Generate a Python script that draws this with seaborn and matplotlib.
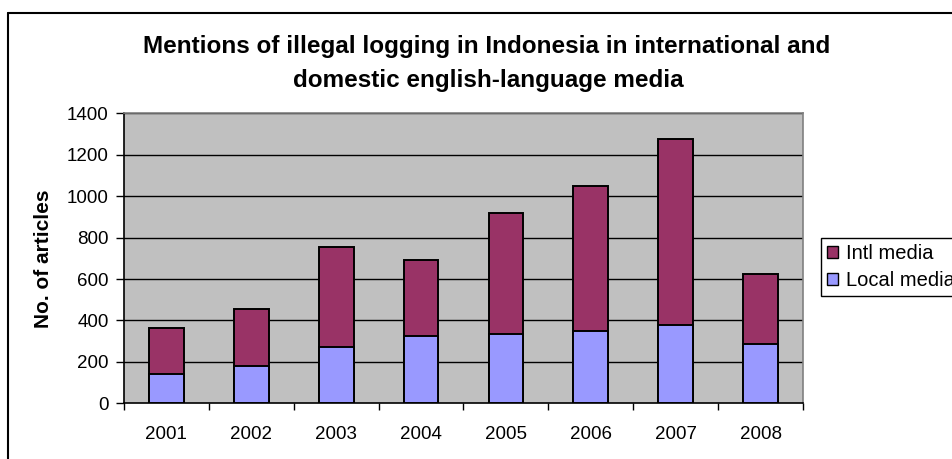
import matplotlib
matplotlib.use("Agg")
import matplotlib.pyplot as plt
from matplotlib.patches import Patch
from matplotlib.lines import Line2D
import numpy as np
import pandas as pd
import seaborn as sns

# Article counts per year
years = ["2001", "2002", "2003", "2004", "2005", "2006", "2007", "2008"]
local_media = [141, 180, 272, 325, 333, 349, 378, 286]
intl_media = [222, 275, 481, 367, 587, 700, 900, 337]

series_labels = ["Intl media", "Local media"]
y_ticks = [0, 200, 400, 600, 800, 1000, 1200, 1400]

INTL_COLOR = "#993366"
LOCAL_COLOR = "#9999FF"
PLOT_BG = "#C0C0C0"

sns.set_theme(style="white")
plt.rcParams["font.family"] = ["Liberation Sans", "DejaVu Sans"]
plt.rcParams["text.color"] = "black"
plt.rcParams["axes.labelcolor"] = "black"
plt.rcParams["xtick.color"] = "black"
plt.rcParams["ytick.color"] = "black"

df = pd.DataFrame({
    "year": years,
    "local": local_media,
    "intl": intl_media,
})
df["total"] = df["local"] + df["intl"]

fig = plt.figure(figsize=(9.53, 4.59), dpi=100)
fig.patch.set_facecolor("white")
ax = fig.add_axes([124 / 953, 1 - 403.3 / 459, (803 - 124) / 953, (403.3 - 113.3) / 459])
ax.set_facecolor(PLOT_BG)

# stacked bars: full total in the international colour, local share over it
sns.barplot(data=df, x="year", y="total", color=INTL_COLOR, width=0.41,
            edgecolor="black", linewidth=1.4, saturation=1, ax=ax, zorder=3)
sns.barplot(data=df, x="year", y="local", color=LOCAL_COLOR, width=0.41,
            edgecolor="black", linewidth=1.4, saturation=1, ax=ax, zorder=4)

ax.set_xlim(-0.5, len(years) - 0.5)
ax.set_ylim(0, 1400)
ax.set_yticks(y_ticks)
ax.set_yticklabels([str(v) for v in y_ticks], fontsize=13.5)
ax.set_xticks(range(len(years)))
ax.set_xticklabels(years, fontsize=13.5)
ax.set_xticks(np.arange(-0.5, len(years)), minor=True)

ax.grid(False)
for v in y_ticks[1:]:
    ax.axhline(v, color="black", linewidth=1.0, zorder=1)

ax.tick_params(axis="y", which="major", direction="out", length=6, width=1,
               color="black", left=True, pad=5)
ax.tick_params(axis="x", which="major", length=0, pad=16)
ax.tick_params(axis="x", which="minor", direction="out", length=5, width=1,
               color="black", bottom=True)

for side in ["top", "right"]:
    ax.spines[side].set_color("#808080")
    ax.spines[side].set_linewidth(1.2)
for side in ["left", "bottom"]:
    ax.spines[side].set_color("black")
    ax.spines[side].set_linewidth(1.2)

ax.set_xlabel("")
ax.set_ylabel("No. of articles", fontsize=15, fontweight="bold", labelpad=10)

# title
fig.text(487 / 953, 1 - 46 / 459,
         "Mentions of illegal logging in Indonesia in international and",
         ha="center", va="center", fontsize=17.5, fontweight="bold")
fig.text(488 / 953, 1 - 80 / 459, "domestic english-language media",
         ha="center", va="center", fontsize=17.5, fontweight="bold")

# legend
handles = [
    Patch(facecolor=INTL_COLOR, edgecolor="black", linewidth=1.0),
    Patch(facecolor=LOCAL_COLOR, edgecolor="black", linewidth=1.0),
]
leg = fig.legend(handles, series_labels, loc="upper left",
                 bbox_to_anchor=(821 / 953, 1 - 238 / 459),
                 fontsize=14.5, frameon=True, fancybox=False, shadow=False,
                 framealpha=1, edgecolor="black", handlelength=0.55,
                 handleheight=0.55, handletextpad=0.4, labelspacing=0.4,
                 borderpad=0.3, borderaxespad=0)
leg.get_frame().set_linewidth(1.0)

# outer chart frame
fig.add_artist(Line2D([8.5 / 953, 8.5 / 953], [0, 1 - 13 / 459],
                      transform=fig.transFigure, color="black", linewidth=1.5))
fig.add_artist(Line2D([8.5 / 953, 1], [1 - 13 / 459, 1 - 13 / 459],
                      transform=fig.transFigure, color="black", linewidth=1.5))

fig.savefig("out.png", dpi=100)
